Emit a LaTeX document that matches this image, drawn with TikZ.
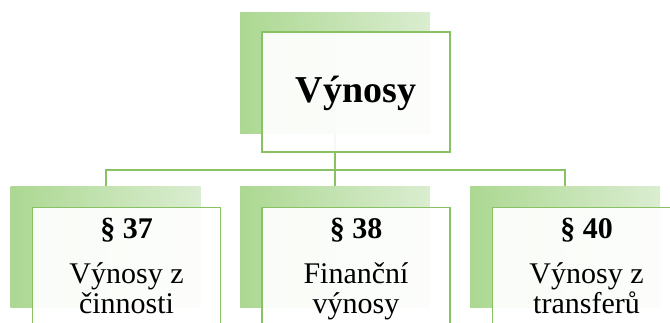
\documentclass[tikz,border=0pt]{standalone}
\usepackage{fontspec}
\setmainfont{Liberation Serif}
\definecolor{gdark}{RGB}{172,216,146}
\definecolor{glight}{RGB}{218,237,208}
\definecolor{gline}{RGB}{136,194,100}
\begin{document}
\begin{tikzpicture}[x=1pt,y=-1pt,
  backbox/.style={rectangle,inner sep=0pt,minimum width=190pt,minimum height=121pt,left color=gdark,right color=glight,draw=none},
  frontbox/.style={rectangle,inner sep=0pt,minimum width=188pt,minimum height=120pt,fill=white,fill opacity=0.93,draw=gline,line width=1.8pt},
  conn/.style={draw=gline,line width=2pt},
  titletext/.style={font=\fontsize{38}{40}\selectfont\bfseries,anchor=base,inner sep=0pt},
  headtext/.style={font=\fontsize{30}{30}\selectfont\bfseries,anchor=base,inner sep=0pt},
  bodytext/.style={font=\fontsize{30}{30}\selectfont,anchor=base,inner sep=0pt}
]
\useasboundingbox (0,0) rectangle (670,322);
\clip (0,0) rectangle (670,322);
% back boxes
\node[backbox] (t0) at (335,72.5) {};
\node[backbox] (b1) at (105.5,247) {};
\node[backbox] (b2) at (335,247) {};
\node[backbox] (b3) at (565,247) {};
% connectors
\coordinate (bus) at (335,169.5);
\draw[conn] (t0.south) -- (bus);
\draw[conn] (bus) -| (b1.north);
\draw[conn] (bus) -| (b3.north);
\draw[conn] (bus) -- (b2.north);
% front boxes
\node[frontbox] (t1) at (356,92) {};
\node[frontbox] (f1) at (126.5,267.5) {};
\node[frontbox] (f2) at (356,267.5) {};
\node[frontbox] (f3) at (586.5,267.5) {};
% texts
\node[titletext] (tt) at (356,102) {Výnosy};
\node[headtext] (h1) at (126.5,238) {§ 37};
\node[bodytext] (l1a) at (126.5,283) {Výnosy z};
\node[bodytext] (l1b) at (126.5,313) {činnosti};
\node[headtext] (h2) at (356,238) {§ 38};
\node[bodytext] (l2a) at (356,283) {Finanční};
\node[bodytext] (l2b) at (356,313) {výnosy};
\node[headtext] (h3) at (586.5,238) {§ 40};
\node[bodytext] (l3a) at (586.5,283) {Výnosy z};
\node[bodytext] (l3b) at (586.5,313) {transferů};
\end{tikzpicture}
\end{document}
